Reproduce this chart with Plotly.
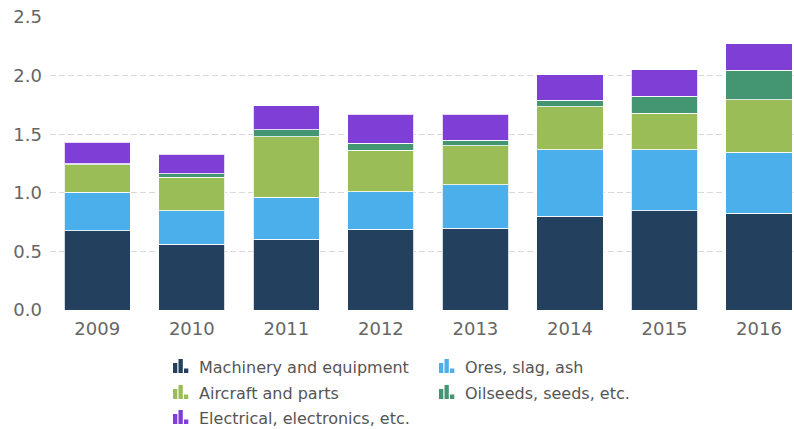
import plotly.graph_objects as go

years = ["2009", "2010", "2011", "2012", "2013", "2014", "2015", "2016"]
machinery = [0.676, 0.560, 0.605, 0.688, 0.699, 0.801, 0.847, 0.824]
ores = [0.330, 0.287, 0.358, 0.321, 0.369, 0.566, 0.520, 0.520]
aircraft = [0.233, 0.287, 0.517, 0.355, 0.333, 0.366, 0.310, 0.449]
oilseeds = [0.010, 0.028, 0.057, 0.057, 0.046, 0.057, 0.147, 0.253]
electrical = [0.181, 0.165, 0.205, 0.250, 0.224, 0.216, 0.228, 0.227]

series_names = ["Machinery and equipment", "Ores, slag, ash", "Aircraft and parts",
                "Oilseeds, seeds, etc.", "Electrical, electronics, etc."]
series_values = [machinery, ores, aircraft, oilseeds, electrical]
colors = ["#24405f", "#4aafea", "#9bbd57", "#449673", "#7f3fd6"]
y_ticks = [0, 0.5, 1.0, 1.5, 2.0, 2.5]
y_tick_labels = ["0.0", "0.5", "1.0", "1.5", "2.0", "2.5"]

FONT = "DejaVu Sans"
fig = go.Figure()
for name, vals, col in zip(series_names, series_values, colors):
    fig.add_trace(go.Bar(
        x=years, y=vals, name=name,
        marker=dict(color=col, line=dict(color="rgba(255,255,255,0.8)", width=1)),
        showlegend=False,
    ))

W, H = 794, 429
L, B, T = 50, 119, 17
PW, PH = W - L, H - B - T
fig.update_layout(
    width=W, height=H,
    barmode="stack", bargap=0.3,
    plot_bgcolor="white", paper_bgcolor="white",
    margin=dict(l=L, r=0, t=T, b=B),
    font=dict(family=FONT, color="#666666", size=18),
    xaxis=dict(range=[-0.5, 7.37], showgrid=False, showline=False, zeroline=False,
               ticks="", ticklabelstandoff=6, tickfont=dict(size=18, color="#666666")),
    yaxis=dict(range=[0, 2.5], tickvals=y_ticks, ticktext=y_tick_labels,
               showgrid=True, gridcolor="#d9d9d9", griddash="6px,3px", gridwidth=1,
               zeroline=False, showline=False, ticks="", ticklabelstandoff=7,
               tickfont=dict(size=18, color="#666666")),
)

def px_x(px):
    return (px - L) / PW

def px_y(py):
    return (H - B - py) / PH

# Custom legend (two columns) with bar-glyph icons
legend_pos = [(173, 367), (439, 367), (173, 393), (439, 393), (173, 418)]
for idx, (px, py) in enumerate(legend_pos):
    col = colors[idx]
    base = py + 6
    for bx, bh in [(0, 10), (5.5, 14), (11, 4.5)]:
        fig.add_shape(type="rect", xref="paper", yref="paper",
                      x0=px_x(px + bx), x1=px_x(px + bx + 4.3),
                      y0=px_y(base), y1=px_y(base - bh),
                      fillcolor=col, line=dict(width=0), layer="above")
    fig.add_annotation(x=px_x(px + 24), y=px_y(py), xref="paper", yref="paper",
                       text=series_names[idx], showarrow=False, xanchor="left", yanchor="middle",
                       font=dict(family=FONT, size=16, color="#555555"))

fig.write_html("out.html", config={"displayModeBar": False},
               post_script="document.body.style.margin='0';document.body.style.padding='0';document.body.style.overflow='hidden';")
